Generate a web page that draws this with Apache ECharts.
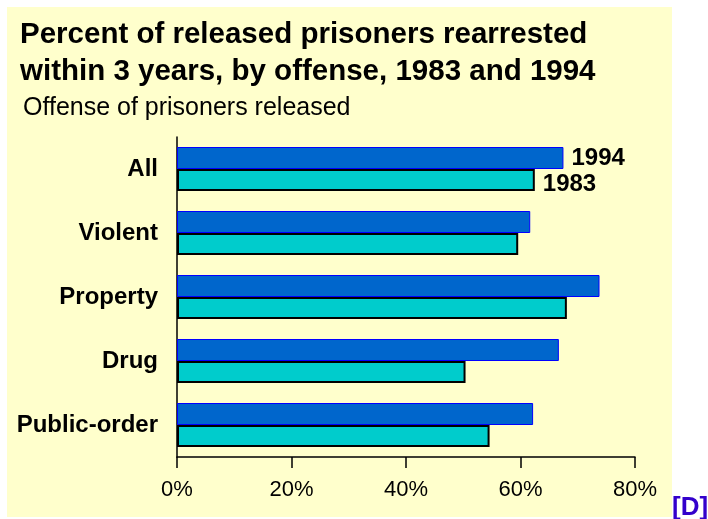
<!DOCTYPE html>
<html>
<head>
<meta charset="utf-8">
<script src="https://cdn.jsdelivr.net/npm/echarts@6/dist/echarts.min.js"></script>
<style>
html,body{margin:0;padding:0;background:#ffffff;}
#chart{width:708px;height:519px;}
</style>
</head>
<body>
<div id="chart"></div>
<script>
const titleText = 'Percent of released prisoners rearrested\nwithin 3 years, by offense, 1983 and 1994';
const subtitleText = 'Offense of prisoners released';
const categories = ['All', 'Violent', 'Property', 'Drug', 'Public-order'];
const seriesNames = ['1994', '1983'];
const values1994 = [67.5, 61.7, 73.8, 66.7, 62.2];
const values1983 = [62.5, 59.6, 68.1, 50.4, 54.6];
const xMin = 0, xMax = 80, xStep = 20;

const chart = echarts.init(document.getElementById('chart'));
const font = '"Liberation Sans", Arial, sans-serif';

function withFirstLabel(arr, offset) {
  return arr.map((v, i) => i === 0 ? {
    value: v,
    label: {show: true, position: 'right', distance: 8, offset: offset, formatter: '{a}',
      color: '#000', fontSize: 24, fontWeight: 'bold', fontFamily: font}
  } : v);
}

chart.setOption({
  animation: false,
  backgroundColor: '#ffffff',
  graphic: [
    {type: 'rect', z: -10, shape: {x: 7, y: 7, width: 665, height: 510}, style: {fill: '#FFFFCC'}},
    {type: 'text', left: 672, top: 495, style: {text: '[D]', fill: '#3300CC', font: 'bold 26px ' + font}}
  ],
  title: [
    {text: titleText, left: 20, top: 16, padding: 0,
      textStyle: {fontSize: 29.5, fontWeight: 'bold', color: '#000', fontFamily: font, lineHeight: 37}},
    {text: subtitleText, left: 23, top: 94, padding: 0,
      textStyle: {fontSize: 25, fontWeight: 'normal', color: '#000', fontFamily: font, lineHeight: 28}}
  ],
  grid: {left: 177, right: 73, top: 137, bottom: 62, containLabel: false},
  xAxis: {
    type: 'value', min: xMin, max: xMax, interval: xStep,
    axisLine: {show: true, lineStyle: {color: '#000', width: 1.5}},
    axisTick: {show: true, length: 11, lineStyle: {color: '#000', width: 1.5}},
    axisLabel: {formatter: '{value}%', color: '#000', fontSize: 22, fontFamily: font, margin: 22},
    splitLine: {show: false}
  },
  yAxis: {
    type: 'category', data: categories, inverse: true,
    axisLine: {show: true, lineStyle: {color: '#000', width: 1.5}},
    axisTick: {show: false},
    axisLabel: {color: '#000', fontSize: 24, fontWeight: 'bold', fontFamily: font, margin: 19}
  },
  series: [
    {name: seriesNames[0], type: 'bar', data: withFirstLabel(values1994, [0, 0]), barWidth: 22, barGap: '0%',
      itemStyle: {color: '#0066CC', borderColor: '#0000FF', borderWidth: 1}},
    {name: seriesNames[1], type: 'bar', data: withFirstLabel(values1983, [0, 4]), barWidth: 22, barGap: '0%',
      itemStyle: {color: '#00CCCC', borderColor: '#000000', borderWidth: 2}}
  ]
});
</script>
</body>
</html>
